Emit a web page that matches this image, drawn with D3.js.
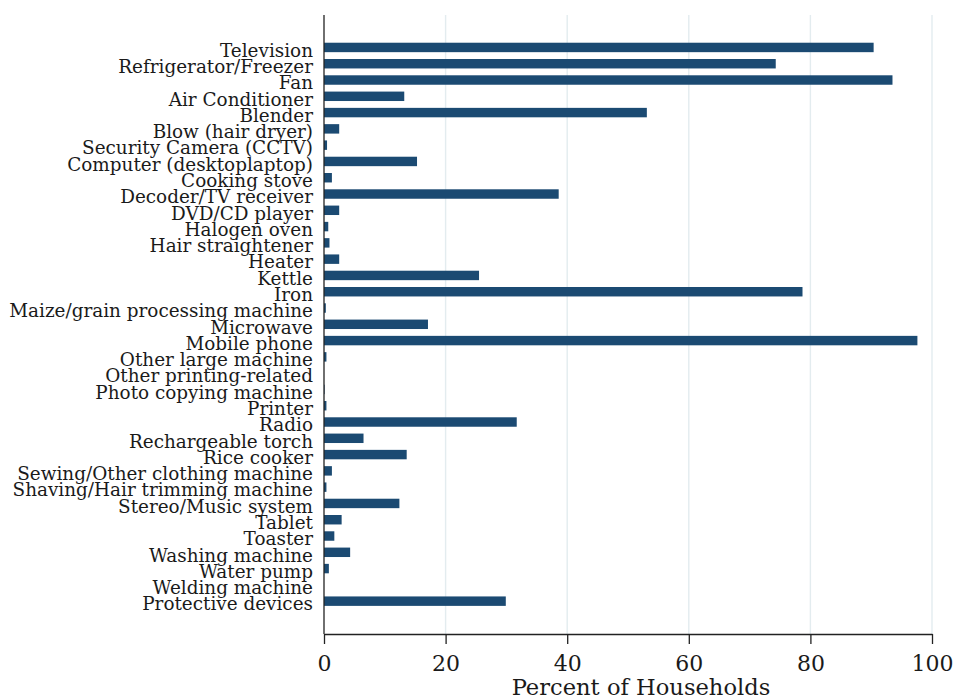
<!DOCTYPE html>
<html>
<head>
<meta charset="utf-8">
<script src="https://cdn.jsdelivr.net/npm/d3@7"></script>
<style>
  html, body { margin: 0; padding: 0; background: #fff; }
  svg text { font-family: "DejaVu Serif", "Liberation Serif", serif; fill: #1a1a1a; }
</style>
</head>
<body>
<svg id="chart" width="955" height="700"></svg>
<script>
// Household appliance ownership, share of households (%)
const appliances = [
  "Television", "Refrigerator/Freezer", "Fan", "Air Conditioner", "Blender",
  "Blow (hair dryer)", "Security Camera (CCTV)", "Computer (desktoplaptop)",
  "Cooking stove", "Decoder/TV receiver", "DVD/CD player", "Halogen oven",
  "Hair straightener", "Heater", "Kettle", "Iron",
  "Maize/grain processing machine", "Microwave", "Mobile phone",
  "Other large machine", "Other printing-related", "Photo copying machine",
  "Printer", "Radio", "Rechargeable torch", "Rice cooker",
  "Sewing/Other clothing machine", "Shaving/Hair trimming machine",
  "Stereo/Music system", "Tablet", "Toaster", "Washing machine",
  "Water pump", "Welding machine", "Protective devices"
];
const percentHouseholds = [
  90.4, 74.3, 93.5, 13.2, 53.1,
  2.5, 0.5, 15.3,
  1.3, 38.6, 2.5, 0.7,
  0.9, 2.5, 25.5, 78.7,
  0.3, 17.1, 97.6,
  0.4, 0.0, 0.1,
  0.4, 31.7, 6.5, 13.6,
  1.3, 0.4,
  12.4, 2.9, 1.7, 4.3,
  0.8, 0.0, 29.9
];
const xTicks = [0, 20, 40, 60, 80, 100];
const xTitle = "Percent of Households";

const data = appliances.map((name, i) => ({ name, value: percentHouseholds[i] }));

const svg = d3.select("#chart");
const plot = { left: 324, right: 932, top: 15, bottom: 634 };

const x = d3.scaleLinear().domain([0, 100]).range([plot.left, plot.right]);
const y = d3.scaleBand()
  .domain(appliances)
  .range([39.3, 609.3])
  .paddingInner(0.42)
  .paddingOuter(0.21);

// vertical gridlines
svg.append("g")
  .selectAll("line")
  .data(xTicks.filter(d => d > 0))
  .join("line")
  .attr("x1", d => x(d)).attr("x2", d => x(d))
  .attr("y1", plot.top).attr("y2", plot.bottom)
  .attr("stroke", "#e3ecef")
  .attr("stroke-width", 1.4);

// bars
svg.append("g")
  .selectAll("rect")
  .data(data)
  .join("rect")
  .attr("x", x(0))
  .attr("y", d => y(d.name))
  .attr("width", d => x(d.value) - x(0))
  .attr("height", y.bandwidth())
  .attr("fill", "#1b4a72");

// y axis with category labels
const yAxis = svg.append("g")
  .attr("transform", `translate(${plot.left},0)`)
  .call(d3.axisLeft(y).tickSize(0).tickPadding(11));
yAxis.select(".domain").remove();
yAxis.selectAll("text")
  .attr("dy", "0.5em")
  .style("font-family", "\"DejaVu Serif\", serif")
  .style("font-size", "18.4px")
  .attr("fill", "#1a1a1a");
svg.append("line")
  .attr("x1", plot.left).attr("x2", plot.left)
  .attr("y1", plot.top).attr("y2", plot.bottom)
  .attr("stroke", "#222").attr("stroke-width", 1.3);

// x axis
const xAxis = svg.append("g")
  .attr("transform", `translate(0,${plot.bottom})`)
  .call(d3.axisBottom(x).tickValues(xTicks).tickSize(10).tickPadding(11).tickSizeOuter(0));
xAxis.select(".domain").attr("stroke", "#222").attr("stroke-width", 1.3);
xAxis.selectAll(".tick line").attr("stroke", "#222").attr("stroke-width", 1.3);
xAxis.selectAll("text")
  .style("font-family", "\"DejaVu Serif\", serif")
  .style("font-size", "22px")
  .attr("fill", "#1a1a1a");

svg.append("text")
  .attr("x", (plot.left + plot.right) / 2 + 13)
  .attr("y", 695)
  .attr("text-anchor", "middle")
  .style("font-size", "22.6px")
  .text(xTitle);
</script>
</body>
</html>
